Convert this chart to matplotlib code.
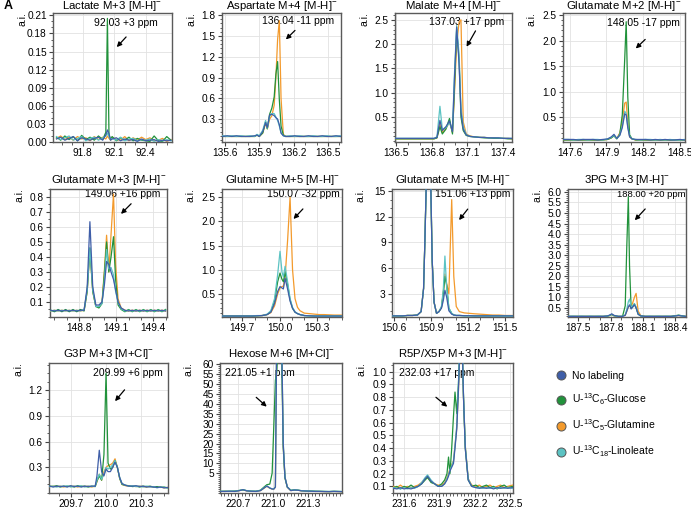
import matplotlib

matplotlib.use("Agg")
import matplotlib.pyplot as plt
from matplotlib.lines import Line2D
from matplotlib.ticker import AutoMinorLocator, FormatStrFormatter

plt.rcParams["font.family"] = ["Liberation Sans", "DejaVu Sans"]
plt.rcParams["mathtext.fontset"] = "custom"
plt.rcParams["mathtext.rm"] = "Liberation Sans"
plt.rcParams["mathtext.it"] = "Liberation Sans:italic"

# --------------------------------------------------------------------------- #
# Data (m/z vs. intensity, a.i.)
# --------------------------------------------------------------------------- #
series_names = ["No labeling", "U-$^{13}$C$_6$-Glucose", "U-$^{13}$C$_5$-Glutamine",
                "U-$^{13}$C$_{18}$-Linoleate"]

# Lactate M+3
lac_mz = [91.55, 91.59, 91.63, 91.67, 91.71, 91.75, 91.79, 91.83, 91.87, 91.91, 91.95, 91.99,
          92.02, 92.035, 92.05, 92.065, 92.08, 92.12, 92.16, 92.20, 92.24, 92.28, 92.32, 92.36,
          92.40, 92.44, 92.48, 92.52, 92.56, 92.60, 92.64]
lac_blue = [0.005, 0.008, 0.003, 0.006, 0.009, 0.002, 0.007, 0.005, 0.003, 0.006, 0.008, 0.003,
            0.012, 0.020, 0.014, 0.003, 0.005, 0.007, 0.002, 0.005, 0.003, 0.004, 0.001, 0.005,
            0.002, 0.003, 0.004, 0.001, 0.003, 0.002, 0.003]
lac_green = [0.008, 0.003, 0.010, 0.004, 0.009, 0.002, 0.011, 0.004, 0.008, 0.003, 0.010, 0.004,
             0.016, 0.205, 0.012, 0.004, 0.009, 0.002, 0.007, 0.003, 0.008, 0.002, 0.006, 0.003,
             0.002, 0.001, 0.010, 0.002, 0.001, 0.009, 0.003]
lac_orange = [0.006, 0.010, 0.004, 0.008, 0.003, 0.009, 0.005, 0.007, 0.002, 0.009, 0.004, 0.008,
              0.005, 0.010, 0.006, 0.003, 0.008, 0.004, 0.003, 0.009, 0.002, 0.007, 0.003, 0.008,
              0.004, 0.007, 0.002, 0.003, 0.006, 0.001, 0.004]
lac_teal = [0.009, 0.004, 0.007, 0.010, 0.003, 0.006, 0.009, 0.002, 0.006, 0.008, 0.003, 0.007,
            0.010, 0.015, 0.009, 0.004, 0.006, 0.003, 0.008, 0.002, 0.005, 0.006, 0.002, 0.004,
            0.003, 0.005, 0.001, 0.004, 0.002, 0.004, 0.002]

# Aspartate M+4
asp_mz = [135.58, 135.62, 135.66, 135.70, 135.74, 135.78, 135.82, 135.86, 135.88, 135.90, 135.93,
          135.955, 135.97, 135.99, 136.01, 136.03, 136.045, 136.06, 136.075, 136.09, 136.11,
          136.13, 136.17, 136.21, 136.25, 136.29, 136.33, 136.37, 136.41, 136.45, 136.49,
          136.53, 136.57, 136.61]
asp_blue = [0.05, 0.06, 0.05, 0.06, 0.05, 0.05, 0.05, 0.06, 0.07, 0.05, 0.12, 0.25, 0.18, 0.36,
            0.37, 0.35, 0.32, 0.30, 0.22, 0.10, 0.06, 0.05, 0.05, 0.06, 0.05, 0.05, 0.06, 0.05,
            0.05, 0.06, 0.05, 0.05, 0.06, 0.05]
asp_green = [0.05, 0.05, 0.05, 0.05, 0.05, 0.05, 0.05, 0.05, 0.07, 0.05, 0.10, 0.26, 0.16, 0.37,
             0.46, 0.62, 0.95, 1.13, 0.58, 0.20, 0.07, 0.05, 0.05, 0.05, 0.05, 0.05, 0.05, 0.05,
             0.05, 0.05, 0.05, 0.05, 0.05, 0.05]
asp_orange = [0.05, 0.05, 0.05, 0.05, 0.05, 0.05, 0.05, 0.05, 0.07, 0.05, 0.10, 0.24, 0.16, 0.30,
              0.35, 0.50, 0.90, 1.45, 1.72, 0.60, 0.08, 0.05, 0.05, 0.05, 0.05, 0.05, 0.05, 0.05,
              0.05, 0.05, 0.05, 0.05, 0.05, 0.05]
asp_teal = [0.06, 0.05, 0.06, 0.05, 0.06, 0.05, 0.06, 0.05, 0.08, 0.06, 0.14, 0.28, 0.17, 0.34,
            0.38, 0.38, 0.33, 0.28, 0.20, 0.10, 0.06, 0.05, 0.06, 0.05, 0.06, 0.05, 0.05, 0.06,
            0.05, 0.05, 0.06, 0.05, 0.05, 0.06]

# Malate M+4
mal_mz = [136.50, 136.54, 136.58, 136.62, 136.66, 136.70, 136.74, 136.78, 136.82, 136.845, 136.87,
          136.89, 136.92, 136.95, 136.975, 136.99, 137.01, 137.03, 137.046, 137.065, 137.09,
          137.12, 137.16, 137.20, 137.24, 137.28, 137.32, 137.36, 137.40, 137.44, 137.47]
mal_blue = [0.06, 0.06, 0.06, 0.06, 0.06, 0.06, 0.06, 0.06, 0.06, 0.08, 0.43, 0.22, 0.30, 0.42,
            0.20, 1.20, 2.35, 1.60, 0.60, 0.25, 0.13, 0.10, 0.09, 0.08, 0.08, 0.07, 0.07, 0.07,
            0.06, 0.06, 0.06]
mal_green = [0.05, 0.05, 0.05, 0.05, 0.05, 0.05, 0.05, 0.05, 0.05, 0.07, 0.30, 0.15, 0.25, 0.47,
             0.15, 1.00, 2.30, 1.70, 0.50, 0.22, 0.12, 0.10, 0.09, 0.08, 0.07, 0.07, 0.06, 0.06,
             0.06, 0.05, 0.05]
mal_orange = [0.05, 0.05, 0.05, 0.05, 0.05, 0.05, 0.05, 0.05, 0.05, 0.07, 0.35, 0.18, 0.26, 0.40,
              0.18, 0.90, 2.00, 2.45, 2.50, 0.40, 0.15, 0.11, 0.09, 0.08, 0.08, 0.07, 0.07, 0.06,
              0.06, 0.06, 0.05]
mal_teal = [0.06, 0.06, 0.06, 0.06, 0.06, 0.06, 0.06, 0.06, 0.06, 0.09, 0.72, 0.25, 0.28, 0.38,
            0.22, 1.30, 2.38, 1.80, 0.70, 0.30, 0.14, 0.10, 0.09, 0.08, 0.08, 0.07, 0.07, 0.07,
            0.06, 0.06, 0.06]

# Glutamate M+2
glu2_mz = [147.55, 147.59, 147.63, 147.67, 147.71, 147.75, 147.79, 147.83, 147.87, 147.91, 147.94,
           147.962, 147.985, 148.01, 148.03, 148.05, 148.062, 148.075, 148.09, 148.11, 148.14,
           148.18, 148.22, 148.26, 148.30, 148.34, 148.38, 148.42, 148.46, 148.50, 148.54]
glu2_blue = [0.07, 0.07, 0.07, 0.06, 0.07, 0.07, 0.07, 0.06, 0.07, 0.08, 0.12, 0.17, 0.09, 0.15,
             0.30, 0.57, 0.55, 0.30, 0.12, 0.08, 0.07, 0.07, 0.07, 0.06, 0.07, 0.06, 0.07, 0.06,
             0.06, 0.07, 0.06]
glu2_green = [0.06, 0.06, 0.06, 0.06, 0.06, 0.06, 0.06, 0.06, 0.06, 0.07, 0.10, 0.14, 0.08, 0.18,
              0.55, 1.65, 2.37, 0.90, 0.16, 0.08, 0.06, 0.06, 0.06, 0.06, 0.06, 0.06, 0.06, 0.06,
              0.06, 0.06, 0.06]
glu2_orange = [0.06, 0.06, 0.06, 0.06, 0.06, 0.06, 0.06, 0.06, 0.06, 0.07, 0.10, 0.15, 0.09, 0.20,
               0.42, 0.78, 0.80, 0.38, 0.12, 0.08, 0.06, 0.06, 0.06, 0.06, 0.06, 0.06, 0.06, 0.06,
               0.06, 0.06, 0.06]
glu2_teal = [0.07, 0.07, 0.06, 0.07, 0.07, 0.06, 0.07, 0.07, 0.06, 0.08, 0.11, 0.15, 0.09, 0.16,
             0.33, 0.62, 0.58, 0.32, 0.13, 0.08, 0.07, 0.06, 0.07, 0.07, 0.06, 0.07, 0.06, 0.07,
             0.06, 0.06, 0.07]

# Glutamate M+3
glu3_mz = [148.57, 148.60, 148.63, 148.66, 148.69, 148.72, 148.75, 148.78, 148.81, 148.84, 148.865,
           148.887, 148.91, 148.935, 148.96, 148.985, 149.005, 149.022, 149.04, 149.058, 149.078,
           149.095, 149.115, 149.14, 149.17, 149.20, 149.23, 149.26, 149.29, 149.32, 149.35,
           149.38, 149.41, 149.44, 149.47, 149.50]
glu3_blue = [0.045, 0.04, 0.045, 0.04, 0.045, 0.04, 0.045, 0.04, 0.045, 0.045, 0.20, 0.635, 0.20,
             0.08, 0.08, 0.10, 0.22, 0.37, 0.35, 0.30, 0.25, 0.18, 0.10, 0.06, 0.045, 0.04, 0.045,
             0.04, 0.045, 0.04, 0.045, 0.04, 0.045, 0.04, 0.045, 0.04]
glu3_green = [0.045, 0.035, 0.05, 0.035, 0.05, 0.035, 0.05, 0.035, 0.05, 0.04, 0.17, 0.46, 0.17,
              0.07, 0.06, 0.09, 0.30, 0.50, 0.30, 0.40, 0.535, 0.25, 0.08, 0.05, 0.035, 0.05,
              0.035, 0.05, 0.035, 0.05, 0.035, 0.05, 0.035, 0.05, 0.035, 0.05]
glu3_orange = [0.04, 0.045, 0.04, 0.045, 0.04, 0.045, 0.04, 0.045, 0.04, 0.045, 0.17, 0.45, 0.17,
               0.07, 0.07, 0.10, 0.32, 0.545, 0.30, 0.55, 0.82, 0.35, 0.12, 0.06, 0.045, 0.04,
               0.045, 0.04, 0.045, 0.04, 0.045, 0.04, 0.045, 0.04, 0.045, 0.04]
glu3_teal = [0.04, 0.045, 0.04, 0.045, 0.04, 0.045, 0.04, 0.045, 0.04, 0.05, 0.18, 0.46, 0.18,
             0.07, 0.07, 0.09, 0.25, 0.45, 0.32, 0.33, 0.28, 0.17, 0.10, 0.055, 0.04, 0.045, 0.04,
             0.045, 0.04, 0.045, 0.04, 0.045, 0.04, 0.045, 0.04, 0.045]

# Glutamine M+5
gln_mz = [149.54, 149.58, 149.62, 149.66, 149.70, 149.74, 149.78, 149.82, 149.86, 149.90, 149.93,
          149.96, 149.985, 150.004, 150.02, 150.031, 150.045, 150.065, 150.085, 150.105, 150.125,
          150.145, 150.165, 150.20, 150.24, 150.28, 150.32, 150.36, 150.40, 150.44, 150.48, 150.50]
gln_blue = [0.04, 0.04, 0.04, 0.04, 0.04, 0.04, 0.04, 0.045, 0.05, 0.07, 0.12, 0.30, 0.55, 0.65,
            0.62, 0.60, 0.82, 0.60, 0.35, 0.20, 0.12, 0.09, 0.07, 0.05, 0.045, 0.04, 0.04, 0.04,
            0.04, 0.04, 0.04, 0.04]
gln_green = [0.04, 0.04, 0.04, 0.04, 0.04, 0.04, 0.04, 0.045, 0.05, 0.07, 0.13, 0.35, 0.75, 0.93,
             0.80, 0.75, 0.95, 0.70, 0.38, 0.20, 0.12, 0.09, 0.07, 0.05, 0.045, 0.04, 0.04, 0.04,
             0.04, 0.04, 0.04, 0.04]
gln_orange = [0.04, 0.04, 0.04, 0.04, 0.04, 0.04, 0.04, 0.045, 0.05, 0.07, 0.11, 0.25, 0.50, 0.62,
              0.65, 0.66, 0.85, 1.60, 2.50, 1.00, 0.40, 0.22, 0.15, 0.10, 0.09, 0.08, 0.07, 0.07,
              0.065, 0.06, 0.06, 0.06]
gln_teal = [0.04, 0.04, 0.04, 0.04, 0.04, 0.04, 0.045, 0.05, 0.05, 0.08, 0.15, 0.40, 0.90, 1.38,
            0.95, 0.85, 1.07, 0.75, 0.40, 0.22, 0.13, 0.09, 0.07, 0.05, 0.045, 0.04, 0.04, 0.04,
            0.04, 0.04, 0.04, 0.04]

# Glutamate M+5
glu5_mz = [150.59, 150.63, 150.67, 150.71, 150.75, 150.79, 150.82, 150.84, 150.85, 150.862, 150.88,
           150.898, 150.91, 150.925, 150.945, 150.965, 150.985, 151.0, 151.013, 151.027, 151.045,
           151.068, 151.085, 151.105, 151.13, 151.17, 151.21, 151.25, 151.30, 151.35, 151.40,
           151.45, 151.50, 151.56]
glu5_blue = [0.4, 0.4, 0.4, 0.45, 0.45, 0.5, 0.9, 3.6, 8.8, 16, 40, 16, 6.8, 2.0, 0.7, 0.9, 1.3,
             2.2, 3.4, 2.6, 1.0, 0.6, 0.5, 0.45, 0.45, 0.42, 0.42, 0.4, 0.4, 0.4, 0.4, 0.4, 0.4,
             0.4]
glu5_green = [0.4, 0.4, 0.4, 0.45, 0.45, 0.5, 0.9, 3.6, 8.8, 16, 40, 16, 6.8, 2.0, 0.7, 0.9, 1.4,
              3.0, 5.0, 4.0, 1.3, 0.7, 0.5, 0.45, 0.45, 0.42, 0.42, 0.4, 0.4, 0.4, 0.4, 0.4, 0.4,
              0.4]
glu5_orange = [0.4, 0.4, 0.4, 0.45, 0.45, 0.5, 0.9, 3.6, 8.8, 16, 40, 16, 6.8, 2.0, 0.7, 0.9, 1.4,
               3.2, 5.3, 4.2, 3.0, 14.0, 5.0, 1.5, 0.9, 0.75, 0.7, 0.65, 0.6, 0.55, 0.5, 0.5,
               0.45, 0.45]
glu5_teal = [0.4, 0.4, 0.4, 0.45, 0.45, 0.5, 0.9, 3.6, 8.8, 16, 40, 16, 6.8, 2.0, 0.7, 0.9, 1.5,
             3.5, 7.4, 3.8, 1.3, 0.7, 0.5, 0.45, 0.45, 0.42, 0.42, 0.4, 0.4, 0.4, 0.4, 0.4, 0.4,
             0.4]

# 3PG M+3
pg_mz = [187.41, 187.45, 187.49, 187.53, 187.57, 187.61, 187.65, 187.69, 187.73, 187.77, 187.79,
         187.81, 187.83, 187.87, 187.91, 187.935, 187.95, 187.964, 187.975, 187.99, 188.005,
         188.02, 188.036, 188.055, 188.08, 188.12, 188.16, 188.20, 188.24, 188.28, 188.32, 188.36,
         188.40, 188.43, 188.46, 188.495]
pg_blue = [0.1, 0.1, 0.1, 0.1, 0.1, 0.1, 0.1, 0.1, 0.1, 0.12, 0.16, 0.22, 0.15, 0.1, 0.1, 0.15,
           0.35, 0.55, 0.65, 0.45, 0.55, 0.65, 0.5, 0.2, 0.12, 0.1, 0.1, 0.1, 0.1, 0.1, 0.1, 0.1,
           0.12, 0.14, 0.12, 0.1]
pg_green = [0.1, 0.1, 0.1, 0.1, 0.1, 0.1, 0.1, 0.1, 0.1, 0.11, 0.14, 0.19, 0.13, 0.1, 0.1, 0.6,
            3.5, 5.77, 2.5, 0.47, 0.55, 0.70, 0.5, 0.2, 0.12, 0.1, 0.1, 0.1, 0.1, 0.1, 0.1, 0.1,
            0.13, 0.16, 0.13, 0.1]
pg_orange = [0.1, 0.1, 0.1, 0.1, 0.1, 0.1, 0.1, 0.1, 0.1, 0.11, 0.14, 0.19, 0.13, 0.1, 0.1, 0.15,
             0.35, 0.55, 0.6, 0.55, 0.75, 1.0, 1.19, 0.35, 0.13, 0.1, 0.1, 0.1, 0.1, 0.1, 0.1, 0.1,
             0.12, 0.14, 0.12, 0.1]
pg_teal = [0.1, 0.11, 0.1, 0.11, 0.1, 0.11, 0.1, 0.11, 0.1, 0.12, 0.15, 0.2, 0.14, 0.1, 0.1, 0.17,
           0.45, 0.80, 0.92, 0.55, 0.60, 0.70, 0.55, 0.22, 0.12, 0.1, 0.11, 0.1, 0.11, 0.1, 0.11,
           0.1, 0.12, 0.15, 0.12, 0.1]

# G3P M+3
g3p_mz = [209.52, 209.55, 209.58, 209.61, 209.64, 209.67, 209.70, 209.73, 209.76, 209.79, 209.82,
          209.85, 209.88, 209.91, 209.925, 209.945, 209.965, 209.985, 210.003, 210.02, 210.04,
          210.06, 210.08, 210.10, 210.12, 210.14, 210.17, 210.20, 210.23, 210.26, 210.29, 210.32,
          210.35, 210.38, 210.41, 210.44, 210.47, 210.50, 210.53]
g3p_blue = [0.08, 0.07, 0.08, 0.075, 0.08, 0.07, 0.085, 0.075, 0.08, 0.07, 0.08, 0.075, 0.08, 0.08,
            0.2, 0.5, 0.25, 0.2, 0.28, 0.25, 0.25, 0.30, 0.36, 0.30, 0.18, 0.11, 0.09, 0.08, 0.08,
            0.085, 0.075, 0.08, 0.07, 0.075, 0.07, 0.065, 0.07, 0.06, 0.065]
g3p_green = [0.08, 0.075, 0.085, 0.07, 0.08, 0.075, 0.08, 0.07, 0.085, 0.075, 0.08, 0.07, 0.08,
             0.075, 0.14, 0.20, 0.15, 0.45, 1.4, 0.35, 0.28, 0.30, 0.38, 0.30, 0.17, 0.10, 0.09,
             0.085, 0.075, 0.08, 0.07, 0.08, 0.075, 0.08, 0.07, 0.075, 0.065, 0.07, 0.06]
g3p_orange = [0.075, 0.08, 0.075, 0.08, 0.07, 0.08, 0.075, 0.08, 0.07, 0.08, 0.075, 0.08, 0.07,
              0.08, 0.13, 0.22, 0.15, 0.25, 0.30, 0.32, 0.33, 0.35, 0.40, 0.30, 0.17, 0.10, 0.085,
              0.08, 0.08, 0.075, 0.08, 0.075, 0.07, 0.075, 0.07, 0.065, 0.07, 0.06, 0.065]
g3p_teal = [0.075, 0.08, 0.07, 0.08, 0.075, 0.085, 0.07, 0.08, 0.075, 0.085, 0.07, 0.08, 0.075,
            0.08, 0.15, 0.22, 0.16, 0.22, 0.30, 0.28, 0.30, 0.33, 0.38, 0.30, 0.18, 0.11, 0.09,
            0.08, 0.085, 0.075, 0.08, 0.07, 0.08, 0.07, 0.075, 0.06, 0.07, 0.065, 0.06]

# Hexose M+6
hex_mz = [220.55, 220.59, 220.63, 220.67, 220.71, 220.74, 220.77, 220.81, 220.85, 220.89, 220.92,
          220.945, 220.97, 220.99, 221.005, 221.018, 221.03, 221.05, 221.07, 221.085, 221.10,
          221.12, 221.15, 221.18, 221.21, 221.24, 221.28, 221.32, 221.36, 221.40, 221.44, 221.48,
          221.52, 221.56, 221.585]
hex_blue = [-4.2, -4.2, -4.1, -4.2, -3.8, -3.3, -3.9, -4.1, -4.2, -3.8, -2.5, -1.5, -2.5, -3.0,
            -3.0, -2.0, 80, 95, 80, 20, 3.0, -2.0, -3.8, -3.5, -3.6, -3.9, -4.0, -4.1, -4.2, -4.2,
            -4.3, -4.3, -4.2, -4.3, -4.3]
hex_green = [-4.2, -4.1, -4.2, -4.0, -3.7, -3.4, -3.8, -4.1, -4.1, -3.6, -2.0, -0.8, -0.5, 5.0,
             30, 52, 56, 85, 70, 18, 2.5, -2.0, -3.6, -3.4, -3.6, -3.8, -4.0, -4.0, -4.1, -4.2,
             -4.2, -4.3, -4.2, -4.2, -4.3]
hex_orange = [-4.2, -4.2, -4.1, -4.2, -3.8, -3.4, -3.9, -4.1, -4.2, -3.8, -2.6, -1.6, -2.6, -3.0,
              -3.0, -2.0, 75, 92, 78, 19, 2.8, -2.0, -3.8, -3.5, -3.6, -3.9, -4.0, -4.1, -4.2,
              -4.2, -4.3, -4.3, -4.2, -4.3, -4.3]
hex_teal = [-4.1, -4.2, -4.0, -4.1, -3.7, -3.3, -3.8, -4.0, -4.1, -3.7, -2.4, -1.4, -2.4, -2.9,
            -2.9, -1.8, 82, 96, 81, 21, 3.2, -1.9, -3.7, -3.4, -3.5, -3.8, -3.9, -4.0, -4.1, -4.1,
            -4.2, -4.2, -4.1, -4.2, -4.2]

# R5P/X5P M+3
r5p_mz = [231.51, 231.54, 231.57, 231.60, 231.63, 231.66, 231.69, 231.72, 231.75, 231.78, 231.80,
          231.83, 231.86, 231.89, 231.92, 231.945, 231.965, 231.978, 231.99, 232.005, 232.02,
          232.033, 232.048, 232.062, 232.078, 232.092, 232.105, 232.12, 232.145, 232.175, 232.21,
          232.24, 232.27, 232.30, 232.33, 232.36, 232.39, 232.42, 232.45, 232.48, 232.52]
r5p_blue = [0.085, 0.08, 0.09, 0.08, 0.085, 0.08, 0.09, 0.10, 0.12, 0.16, 0.18, 0.14, 0.12, 0.10,
            0.10, 0.12, 0.15, 0.18, 0.22, 0.25, 0.28, 0.40, 0.55, 0.85, 1.30, 1.30, 0.80, 0.40,
            0.15, 0.10, 0.09, 0.085, 0.09, 0.085, 0.09, 0.08, 0.09, 0.085, 0.09, 0.085, 0.09]
r5p_green = [0.09, 0.10, 0.08, 0.10, 0.09, 0.11, 0.09, 0.10, 0.12, 0.15, 0.17, 0.13, 0.12, 0.10,
             0.12, 0.15, 0.20, 0.33, 0.20, 0.40, 0.65, 0.84, 0.67, 0.90, 1.30, 1.30, 0.80, 0.40,
             0.15, 0.10, 0.11, 0.09, 0.10, 0.11, 0.09, 0.10, 0.08, 0.10, 0.11, 0.09, 0.10]
r5p_orange = [0.10, 0.09, 0.11, 0.09, 0.10, 0.09, 0.10, 0.11, 0.13, 0.16, 0.17, 0.14, 0.12, 0.11,
              0.11, 0.13, 0.17, 0.20, 0.24, 0.27, 0.30, 0.42, 0.56, 0.85, 1.25, 1.25, 0.80, 0.42,
              0.16, 0.11, 0.10, 0.11, 0.09, 0.10, 0.11, 0.09, 0.10, 0.11, 0.09, 0.10, 0.11]
r5p_teal = [0.09, 0.085, 0.08, 0.09, 0.08, 0.09, 0.085, 0.10, 0.13, 0.17, 0.19, 0.15, 0.12, 0.10,
            0.10, 0.12, 0.16, 0.19, 0.23, 0.26, 0.30, 0.42, 0.58, 0.90, 1.30, 1.30, 0.82, 0.42,
            0.16, 0.10, 0.09, 0.09, 0.085, 0.09, 0.085, 0.09, 0.085, 0.09, 0.085, 0.09, 0.085]

# y tick labels per panel
lac_yticks = [0.00, 0.03, 0.06, 0.09, 0.12, 0.15, 0.18, 0.21]
asp_yticks = [0.3, 0.6, 0.9, 1.2, 1.5, 1.8]
mal_yticks = [0.5, 1.0, 1.5, 2.0, 2.5]
glu2_yticks = [0.5, 1.0, 1.5, 2.0, 2.5]
glu3_yticks = [0.1, 0.2, 0.3, 0.4, 0.5, 0.6, 0.7, 0.8]
gln_yticks = [0.5, 1.0, 1.5, 2.0, 2.5]
glu5_yticks = [3, 6, 9, 12, 15]
pg_yticks = [0.5, 1.0, 1.5, 2.0, 2.5, 3.0, 3.5, 4.0, 4.5, 5.0, 5.5, 6.0]
g3p_yticks = [0.3, 0.6, 0.9, 1.2]
hex_yticks = [5, 10, 15, 20, 25, 30, 35, 40, 45, 50, 55, 60]
r5p_yticks = [0.1, 0.2, 0.3, 0.4, 0.5, 0.6, 0.7, 0.8, 0.9, 1.0]

COLORS = {"orange": "#f39a2c", "green": "#21923b", "teal": "#5cc3c3", "blue": "#3f5ea8"}
LEGEND_COLORS = [COLORS["blue"], COLORS["green"], COLORS["orange"], COLORS["teal"]]

W, H = 691, 509


def px_rect(left, top, right, bottom):
    return [left / W, (H - bottom) / H, (right - left) / W, (bottom - top) / H]


panels = [
    dict(title="Lactate M+3 [M-H]$^{-}$", mz=lac_mz,
         ys=dict(orange=lac_orange, green=lac_green, teal=lac_teal, blue=lac_blue),
         rect=(53, 13, 172, 142), xlim=(91.517, 92.65), ylim=(0, 0.214),
         xticks=[91.8, 92.1, 92.4], yticks=lac_yticks, yfmt="%.2f", xminor=3, yminor=3,
         label="92.03 +3 ppm", tpos=(0.61, 0.92), tail=(0.63, 0.83), head=(0.52, 0.72)),
    dict(title="Aspartate M+4 [M-H]$^{-}$", mz=asp_mz,
         ys=dict(orange=asp_orange, green=asp_green, teal=asp_teal, blue=asp_blue),
         rect=(222, 13, 341, 142), xlim=(135.574, 136.614), ylim=(-0.03, 1.83),
         xticks=[135.6, 135.9, 136.2, 136.5], yticks=asp_yticks, yfmt="%.1f", xminor=3, yminor=5,
         label="136.04 -11 ppm", tpos=(0.64, 0.94), tail=(0.63, 0.88), head=(0.52, 0.78)),
    dict(title="Malate M+4 [M-H]$^{-}$", mz=mal_mz,
         ys=dict(orange=mal_orange, green=mal_green, teal=mal_teal, blue=mal_blue),
         rect=(395, 13, 512, 142), xlim=(136.494, 137.473), ylim=(-0.015, 2.64),
         xticks=[136.5, 136.8, 137.1, 137.4], yticks=mal_yticks, yfmt="%.1f", xminor=3, yminor=5,
         label="137.03 +17 ppm", tpos=(0.61, 0.93), tail=(0.70, 0.88), head=(0.60, 0.72)),
    dict(title="Glutamate M+2 [M-H]$^{-}$", mz=glu2_mz,
         ys=dict(orange=glu2_orange, green=glu2_green, teal=glu2_teal, blue=glu2_blue),
         rect=(563, 13, 685, 142), xlim=(147.545, 148.543), ylim=(0.02, 2.54),
         xticks=[147.6, 147.9, 148.2, 148.5], yticks=glu2_yticks, yfmt="%.1f", xminor=3, yminor=5,
         label="148.05 -17 ppm", tpos=(0.66, 0.92), tail=(0.69, 0.81), head=(0.58, 0.71)),
    dict(title="Glutamate M+3 [M-H]$^{-}$", mz=glu3_mz,
         ys=dict(orange=glu3_orange, green=glu3_green, teal=glu3_teal, blue=glu3_blue),
         rect=(50, 189, 167, 317), xlim=(148.564, 149.511), ylim=(0.0, 0.853),
         xticks=[148.8, 149.1, 149.4], yticks=glu3_yticks, yfmt="%.1f", xminor=3, yminor=2,
         label="149.06 +16 ppm", tpos=(0.62, 0.96), tail=(0.71, 0.90), head=(0.59, 0.79)),
    dict(title="Glutamine M+5 [M-H]$^{-}$", mz=gln_mz,
         ys=dict(orange=gln_orange, green=gln_green, teal=gln_teal, blue=gln_blue),
         rect=(222, 189, 342, 317), xlim=(149.536, 150.504), ylim=(0.02, 2.67),
         xticks=[149.7, 150.0, 150.3], yticks=gln_yticks, yfmt="%.1f", xminor=3, yminor=5,
         label="150.07 -32 ppm", tpos=(0.68, 0.96), tail=(0.69, 0.86), head=(0.58, 0.75)),
    dict(title="Glutamate M+5 [M-H]$^{-}$", mz=glu5_mz,
         ys=dict(orange=glu5_orange, green=glu5_green, teal=glu5_teal, blue=glu5_blue),
         rect=(392, 189, 513, 317), xlim=(150.584, 151.565), ylim=(0.27, 15.24),
         xticks=[150.6, 150.9, 151.2, 151.5], yticks=glu5_yticks, yfmt="%d", xminor=3, yminor=3,
         label="151.06 +13 ppm", tpos=(0.67, 0.96), tail=(0.64, 0.86), head=(0.54, 0.74)),
    dict(title="3PG M+3 [M-H]$^{-}$", mz=pg_mz,
         ys=dict(orange=pg_orange, green=pg_green, teal=pg_teal, blue=pg_blue),
         rect=(568, 189, 686, 317), xlim=(187.404, 188.499), ylim=(0.07, 6.14),
         xticks=[187.5, 187.8, 188.1, 188.4], yticks=pg_yticks, yfmt="%.1f", xminor=3, yminor=5,
         label="188.00 +20 ppm", tpos=(0.995, 0.96), tail=(0.67, 0.86), head=(0.55, 0.74),
         tha="right", tsize=6.8),
    dict(title="G3P M+3 [M+Cl]$^{-}$", mz=g3p_mz,
         ys=dict(orange=g3p_orange, green=g3p_green, teal=g3p_teal, blue=g3p_blue),
         rect=(49, 363, 168, 493), xlim=(209.514, 210.534), ylim=(0.0, 1.52),
         xticks=[209.7, 210.0, 210.3], yticks=g3p_yticks, yfmt="%.1f", xminor=3, yminor=3,
         label="209.99 +6 ppm", tpos=(0.66, 0.92), tail=(0.65, 0.81), head=(0.54, 0.69)),
    dict(title="Hexose M+6 [M+Cl]$^{-}$", mz=hex_mz,
         ys=dict(orange=hex_orange, green=hex_green, teal=hex_teal, blue=hex_blue),
         rect=(220, 363, 342, 493), xlim=(220.543, 221.589), ylim=(-5.0, 60.7),
         xticks=[220.7, 221.0, 221.3], yticks=hex_yticks, yfmt="%d", xminor=10, yminor=5,
         label="221.05 +1 ppm", tpos=(0.33, 0.92), tail=(0.28, 0.75), head=(0.40, 0.65)),
    dict(title="R5P/X5P M+3 [M-H]$^{-}$", mz=r5p_mz,
         ys=dict(orange=r5p_orange, green=r5p_green, teal=r5p_teal, blue=r5p_blue),
         rect=(393, 363, 513, 493), xlim=(231.507, 232.525), ylim=(0.048, 1.068),
         xticks=[231.6, 231.9, 232.2, 232.5], yticks=r5p_yticks, yfmt="%.1f", xminor=10, yminor=2,
         label="232.03 +17 ppm", tpos=(0.36, 0.92), tail=(0.34, 0.75), head=(0.47, 0.65)),
]

fig = plt.figure(figsize=(W / 100, H / 100), dpi=100)

for p in panels:
    ax = fig.add_axes(px_rect(*p["rect"]))
    for key in ["orange", "green", "teal", "blue"]:
        ax.plot(p["mz"], p["ys"][key], color=COLORS[key], lw=0.9, zorder=3)
    ax.set_xlim(*p["xlim"])
    ax.set_ylim(*p["ylim"])
    ax.set_xticks(p["xticks"])
    ax.set_yticks(p["yticks"])
    ax.xaxis.set_major_formatter(FormatStrFormatter("%.1f"))
    ax.yaxis.set_major_formatter(FormatStrFormatter(p["yfmt"]))
    ax.xaxis.set_minor_locator(AutoMinorLocator(p["xminor"]))
    ax.yaxis.set_minor_locator(AutoMinorLocator(p["yminor"]))
    ax.tick_params(which="major", direction="out", length=3, width=0.8, color="#444444",
                   labelsize=7.3, pad=1.5)
    ax.tick_params(which="minor", direction="out", length=1.8, width=0.6, color="#444444")
    ax.grid(True, which="major", color="#e2e2e2", lw=0.6)
    ax.set_axisbelow(True)
    for sp in ax.spines.values():
        sp.set_color("#5a5a5a")
        sp.set_linewidth(1.0)
    top_row = p["rect"][1] < 50
    ax.set_title(p["title"], fontsize=8.2, pad=1.0 if top_row else 4)
    ax.text(-0.26, 0.95, "a.i.", rotation=90, transform=ax.transAxes, ha="center",
            va="center", fontsize=7.5)
    ax.text(*p["tpos"], p["label"], transform=ax.transAxes, ha=p.get("tha", "center"),
            va="center", fontsize=p.get("tsize", 7.5), zorder=2)
    ax.annotate("", xy=p["head"], xytext=p["tail"], xycoords="axes fraction",
                textcoords="axes fraction",
                arrowprops=dict(arrowstyle="-|>", color="black", lw=0.9, mutation_scale=7),
                zorder=4)

fig.text(4 / W, 1 - 6 / H, "A", fontsize=9, fontweight="bold", ha="left", va="center")

handles = [Line2D([], [], ls="none", marker="o", markersize=6.5, markerfacecolor=c,
                  markeredgecolor="#555555", markeredgewidth=0.7) for c in LEGEND_COLORS]
fig.legend(handles, series_names, loc="upper left", bbox_to_anchor=(556 / W, 1 - 371 / H),
           frameon=False, fontsize=7.5, handlelength=1.0, handletextpad=0.5,
           labelspacing=1.0, borderpad=0, borderaxespad=0)

fig.savefig("out.png", dpi=100)
